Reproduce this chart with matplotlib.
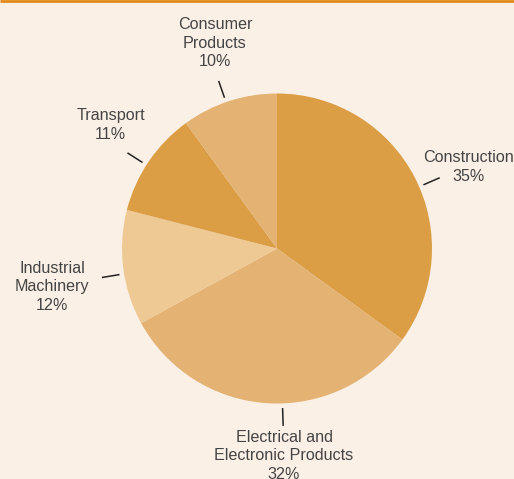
import numpy as np
import matplotlib.pyplot as plt

plt.rcParams['font.family'] = ['Liberation Sans', 'DejaVu Sans']

# data, clockwise from 12 o'clock
sectors = ['Construction', 'Electrical and\nElectronic Products', 'Industrial\nMachinery',
           'Transport', 'Consumer\nProducts']
shares = [35, 32, 12, 11, 10]
colors = ['#DC9E45', '#E4B272', '#EEC994', '#DC9E45', '#E4B272']

bg = '#FAF0E6'
W, H = 514, 479
fig = plt.figure(figsize=(W / 100, H / 100), dpi=100, facecolor=bg)
ax = fig.add_axes([0, 0, 1, 1])

cx, cy, R = 277, H - 248.5, 155
wedges, _ = ax.pie(shares, colors=colors, startangle=90, counterclock=False,
                   center=(cx, cy), radius=R, frame=True,
                   wedgeprops=dict(linewidth=0))
ax.set_xlim(0, W)
ax.set_ylim(0, H)
ax.set_facecolor(bg)
ax.axis('off')

# leader ticks (angle in degrees) and label centres (pixels from top-left)
tick_ang = [23.5, -88, 189.4, 147.4, 109.2]
label_xy = [(469, 167), (284, 456), (52, 287), (110.5, 125), (215, 43)]

for name, share, a, (lx, ly) in zip(sectors, shares, tick_ang, label_xy):
    t = np.deg2rad(a)
    c, s = np.cos(t), np.sin(t)
    ax.plot([cx + 1.035 * R * c, cx + 1.14 * R * c],
            [cy + 1.035 * R * s, cy + 1.14 * R * s], color='#222222', lw=1.1)
    ax.text(lx, H - ly, f'{name}\n{share}%',
            ha='center', va='center', fontsize=11.6, color='#444444',
            linespacing=1.33)

# orange rule at the top
ax.plot([0, W], [H - 1, H - 1], color='#E38B1A', lw=2, solid_capstyle='butt')

fig.savefig('out.png', dpi=100, facecolor=bg)
